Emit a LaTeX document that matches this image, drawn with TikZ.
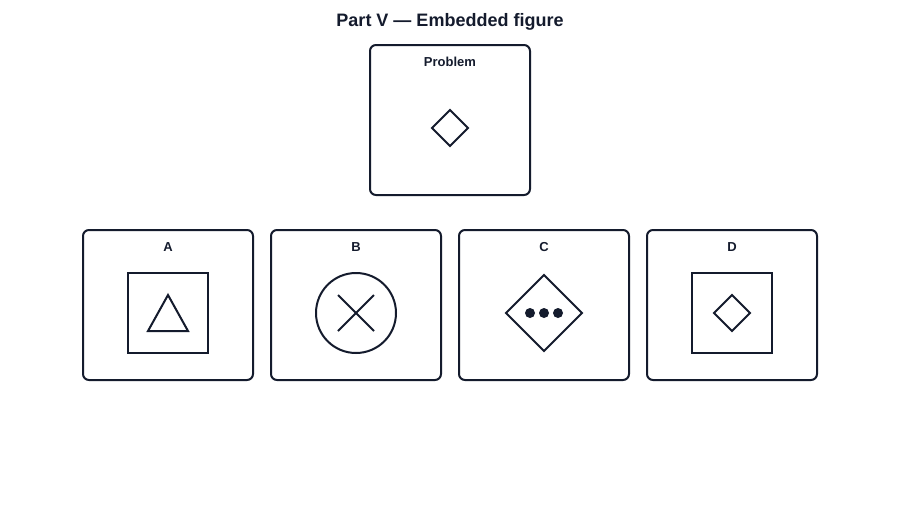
\documentclass[tikz,border=0pt]{standalone}
\usepackage{fontspec}
\setmainfont{Liberation Sans}
\begin{document}
\begin{tikzpicture}[x=1pt,y=-1pt,
  ink/.style={draw=inkc,line width=2pt},
  card/.style={ink,rounded corners=6pt},
  lbl/.style={text=inkc,font=\fontsize{13}{15}\selectfont\bfseries,inner sep=0pt},
  dotc/.style={fill=inkc,draw=none}]
\definecolor{inkc}{HTML}{141B2D}
\useasboundingbox (0,0) rectangle (900,520);
\fill[white] (0,0) rectangle (900,520);
\node[text=inkc,font=\fontsize{18}{21}\selectfont\bfseries,inner sep=0pt] (title) at (450,22) {Part V — Embedded figure};
% problem
\draw[card] (370,45) rectangle (530,195);
\node[lbl] (prob) at (450,62) {Problem};
\draw[ink] (450,110) -- (468,128) -- (450,146) -- (432,128) -- cycle;
% A
\draw[card] (83,230) rectangle (253,380);
\node[lbl] (la) at (168,247) {A};
\draw[ink] (128,273) rectangle (208,353);
\draw[ink] (168,295) -- (188,331) -- (148,331) -- cycle;
% B
\draw[card] (271,230) rectangle (441,380);
\node[lbl] (lb) at (356,247) {B};
\draw[ink] (356,313) circle (40);
\draw[ink] (338,295) -- (374,331);
\draw[ink] (374,295) -- (338,331);
% C
\draw[card] (459,230) rectangle (629,380);
\node[lbl] (lc) at (544,247) {C};
\draw[ink] (544,275) -- (582,313) -- (544,351) -- (506,313) -- cycle;
\fill[dotc] (530,313) circle (5);
\fill[dotc] (544,313) circle (5);
\fill[dotc] (558,313) circle (5);
% D
\draw[card] (647,230) rectangle (817,380);
\node[lbl] (ld) at (732,247) {D};
\draw[ink] (692,273) rectangle (772,353);
\draw[ink] (732,295) -- (750,313) -- (732,331) -- (714,313) -- cycle;
\end{tikzpicture}
\end{document}
